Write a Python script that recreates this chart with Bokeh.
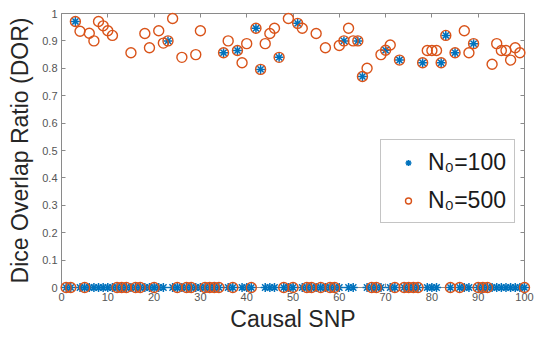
from bokeh.plotting import figure
from bokeh.models import (LinearAxis, FixedTicker, CustomJSTickFormatter, Legend,
                          LegendItem, Range1d, ColumnDataSource)
from bokeh.embed import file_html
from bokeh.resources import INLINE

# ---- data ----
snp = list(range(1, 101))

pos_100 = [3, 23, 35, 38, 42, 43, 47, 51, 61, 64, 65, 70, 73, 78, 82, 83, 85, 89]
val_100 = [0.971, 0.90, 0.857, 0.865, 0.946, 0.796, 0.84, 0.964, 0.90, 0.90,
           0.77, 0.866, 0.83, 0.82, 0.82, 0.92, 0.857, 0.89]

pos_500 = [3, 4, 6, 7, 8, 9, 10, 11, 15, 18, 19, 21, 22, 23, 24, 26, 29, 30,
           35, 36, 38, 39, 40, 42, 43, 44, 45, 46, 47, 49, 51, 52, 55, 57, 60,
           61, 62, 63, 64, 65, 66, 69, 70, 71, 73, 78, 79, 80, 81, 82, 83, 85,
           87, 88, 89, 93, 94, 95, 96, 97, 98, 99]
val_500 = [0.971, 0.935, 0.928, 0.90, 0.971, 0.955, 0.937, 0.92, 0.857, 0.927,
           0.875, 0.937, 0.892, 0.90, 0.982, 0.84, 0.85, 0.937,
           0.857, 0.90, 0.865, 0.82, 0.89, 0.946, 0.796, 0.89, 0.927, 0.946,
           0.84, 0.982, 0.964, 0.946, 0.927, 0.875, 0.883,
           0.90, 0.946, 0.90, 0.90, 0.77, 0.80, 0.85, 0.866, 0.885, 0.83, 0.82,
           0.865, 0.865, 0.865, 0.82, 0.92, 0.857,
           0.937, 0.857, 0.89, 0.815, 0.89, 0.865, 0.865, 0.83, 0.875, 0.857]

x_ticks = [0, 10, 20, 30, 40, 50, 60, 70, 80, 90, 100]
y_ticks = [0, 0.1, 0.2, 0.3, 0.4, 0.5, 0.6, 0.7, 0.8, 0.9, 1]

labels = ["N\u2080=100", "N\u2080=500"]

# build full 100-point series (zeros elsewhere)
dor_100 = [0.0] * len(snp)
for p_, v_ in zip(pos_100, val_100):
    dor_100[p_ - 1] = v_
dor_500 = [0.0] * len(snp)
for p_, v_ in zip(pos_500, val_500):
    dor_500[p_ - 1] = v_

src = ColumnDataSource(dict(snp=snp, d100=dor_100, d500=dor_500))

BLUE = "#0072BD"
ORANGE = "#D95319"
AXC = "#8a8a8a"
FONT = "Liberation Sans"

p = figure(width=536, height=337, x_range=Range1d(0, 100), y_range=Range1d(0, 1),
           output_backend="svg", toolbar_location=None,
           min_border_left=61, min_border_right=12, min_border_top=13, min_border_bottom=50)
p.outline_line_color = None
p.xgrid.visible = False
p.ygrid.visible = False

r1 = p.scatter("snp", "d100", source=src, marker="asterisk", size=9,
               line_color=BLUE, line_width=1.5, level="overlay")
r2 = p.scatter("snp", "d500", source=src, marker="circle", size=10,
               line_color=ORANGE, fill_color=None, line_width=1.4, level="overlay")

fmt = CustomJSTickFormatter(code="return Number(tick.toFixed(2)).toString();")
blank = CustomJSTickFormatter(code="return '';")

xa = p.xaxis[0]
ya = p.yaxis[0]
xa.ticker = FixedTicker(ticks=x_ticks)
ya.ticker = FixedTicker(ticks=y_ticks)
ya.formatter = fmt
xa.formatter = fmt
xa.axis_label = "Causal SNP"
ya.axis_label = "Dice Overlap Ratio (DOR)"

for ax in (xa, ya):
    ax.axis_line_color = AXC
    ax.major_tick_line_color = AXC
    ax.major_tick_in = 4
    ax.major_tick_out = 0
    ax.minor_tick_line_color = None
    ax.major_label_text_font = FONT
    ax.major_label_text_font_size = "11px"
    ax.major_label_text_color = "#555555"
    ax.axis_label_text_font = FONT
    ax.axis_label_text_font_size = "23px"
    ax.axis_label_text_font_style = "normal"
    ax.axis_label_text_color = "#262626"
xa.major_label_standoff = 5
xa.axis_label_standoff = 2
ya.major_label_standoff = 4
ya.axis_label_standoff = 6

# box: top and right axes with inward ticks, no labels
top = LinearAxis(ticker=FixedTicker(ticks=x_ticks), formatter=blank,
                 major_label_text_font_size="1px",
                 major_label_standoff=0, axis_line_color=AXC, major_tick_line_color=AXC,
                 major_tick_in=4, major_tick_out=0, minor_tick_line_color=None)
right = LinearAxis(ticker=FixedTicker(ticks=y_ticks), formatter=blank,
                   major_label_text_font_size="1px",
                   major_label_standoff=0, axis_line_color=AXC, major_tick_line_color=AXC,
                   major_tick_in=4, major_tick_out=0, minor_tick_line_color=None)
p.add_layout(top, "above")
p.add_layout(right, "right")

legend = Legend(items=[LegendItem(label=labels[0], renderers=[r1]),
                       LegendItem(label=labels[1], renderers=[r2])],
                location=(319, 64), orientation="vertical",
                label_text_font=FONT, label_text_font_size="23px", label_text_color="#1a1a1a",
                glyph_width=38, glyph_height=15, label_height=28, label_standoff=1,
                spacing=10, padding=8, margin=0,
                border_line_color=AXC, border_line_width=1,
                background_fill_color="white", background_fill_alpha=1)
p.add_layout(legend, "center")

open("out.html", "w").write(file_html(p, INLINE))
